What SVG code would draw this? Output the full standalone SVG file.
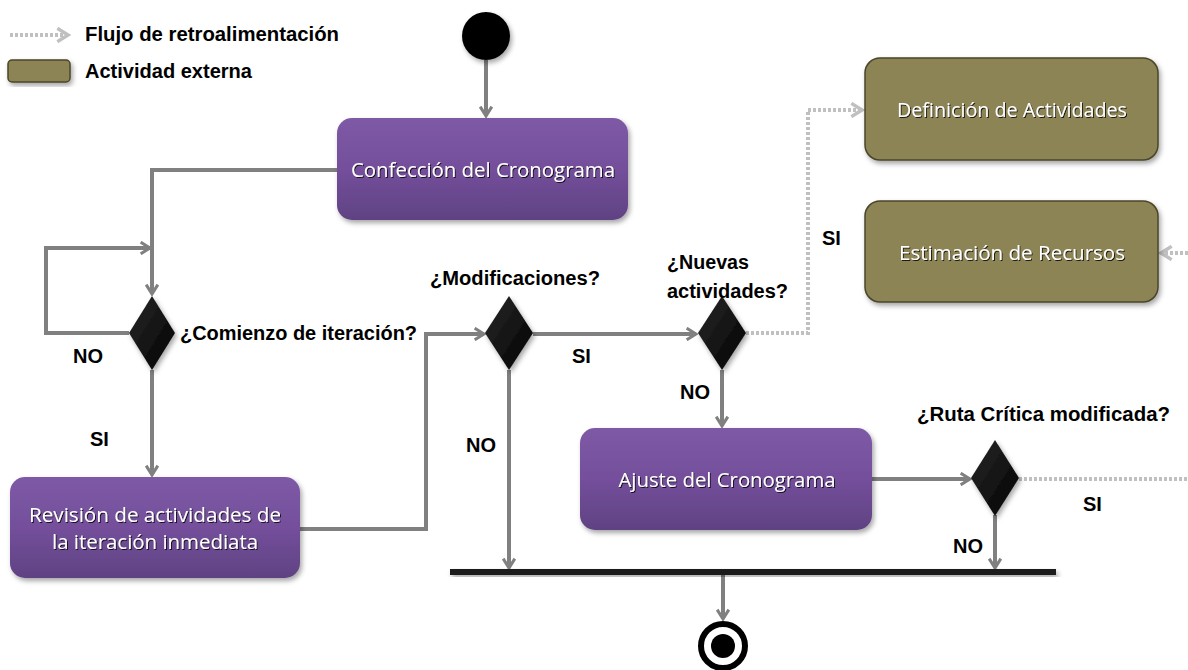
<svg xmlns="http://www.w3.org/2000/svg" width="1188" height="670" viewBox="0 0 1188 670">
<style>
.lbl{font-family:"Liberation Sans",Arial,sans-serif;font-weight:bold;font-size:20px;fill:#000}
.btx{font-family:"Open Sans","Liberation Sans",Arial,sans-serif;font-size:20px;fill:#fff;text-anchor:middle}
.flow{fill:none;stroke:#808080;stroke-width:4;marker-end:url(#arr)}
.fb{fill:none;stroke:#c0c0c0;stroke-width:4;stroke-dasharray:3 2}
.fba{fill:none;stroke:#c0c0c0;stroke-width:4;stroke-dasharray:3 2;marker-end:url(#arrl)}
.act{fill:url(#gp);filter:url(#sh)}
.ext{fill:#8c8454;stroke:#4a4528;stroke-width:1.5;filter:url(#sh)}
.dec{fill:url(#gd);filter:url(#sh)}
</style>
<defs>
<linearGradient id="gp" x1="0" y1="0" x2="0" y2="1"><stop offset="0" stop-color="#7e5aa6"/><stop offset="0.5" stop-color="#744f9b"/><stop offset="1" stop-color="#5f4283"/></linearGradient>
<linearGradient id="gd" x1="0" y1="0" x2="1" y2="1"><stop offset="0" stop-color="#2a2a2a"/><stop offset="1" stop-color="#000"/></linearGradient>
<filter id="sh" x="-10%" y="-10%" width="125%" height="130%"><feDropShadow dx="2" dy="3" stdDeviation="2.5" flood-color="#000" flood-opacity="0.35"/></filter>
<filter id="ts" x="-5%" y="-20%" width="110%" height="150%"><feDropShadow dx="1" dy="1" stdDeviation="0.7" flood-color="#000" flood-opacity="0.8"/></filter>
<marker id="arr" viewBox="0 0 12 12" refX="10" refY="6" markerWidth="14" markerHeight="14" markerUnits="userSpaceOnUse" orient="auto"><path d="M2,1 L10,6 L2,11" fill="none" stroke="#808080" stroke-width="2.6"/></marker>
<marker id="arrl" viewBox="0 0 12 12" refX="10" refY="6" markerWidth="16" markerHeight="16" markerUnits="userSpaceOnUse" orient="auto"><path d="M2,1 L10,6 L2,11" fill="none" stroke="#c0c0c0" stroke-width="2.6"/></marker>
</defs>
<rect width="1188" height="670" fill="#fff"/>

<g id="legend">
<path class="fba" d="M10,35 H68"/>
<text class="lbl" x="85" y="41" textLength="254" lengthAdjust="spacingAndGlyphs">Flujo de retroalimentación</text>
<rect class="ext" x="8" y="60" width="62" height="22" rx="4"/>
<text class="lbl" x="85" y="78" textLength="167" lengthAdjust="spacingAndGlyphs">Actividad externa</text>
</g>

<g id="connectors">
<path class="flow" d="M486,60 V116"/>
<path class="flow" d="M337,170 H152 V294"/>
<path class="flow" d="M129,333 H46 V248 H150"/>
<path class="flow" d="M152,370 V475"/>
<path class="flow" d="M300,529 H426 V334 H484"/>
<path class="flow" d="M533,334 H696"/>
<path class="flow" d="M509,370 V568"/>
<path class="fba" d="M746,333 H808 V110 H862"/>
<path class="fba" d="M1188,253 H1161"/>
<path class="flow" d="M722,370 V426"/>
<path class="flow" d="M872,479 H970"/>
<path class="fb" d="M1019,479 H1188"/>
<path class="flow" d="M995,515 V568"/>
<path class="flow" d="M723,575 V619"/>
</g>

<g id="start"><circle cx="486" cy="36" r="24" fill="#000" filter="url(#sh)"/></g>

<g id="confeccion">
<rect class="act" x="337" y="118" width="291" height="102" rx="15"/>
<text class="btx" x="483" y="177" textLength="264" lengthAdjust="spacingAndGlyphs" filter="url(#ts)">Confección del Cronograma</text>
</g>

<g id="dec1">
<path class="dec" d="M152,296 L175,333 L152,370 L129,333 Z"/>
<text class="lbl" x="180" y="340" textLength="237" lengthAdjust="spacingAndGlyphs">¿Comienzo de iteración?</text>
<text class="lbl" x="73" y="363">NO</text>
<text class="lbl" x="90" y="446">SI</text>
</g>

<g id="revision">
<rect class="act" x="10" y="477" width="290" height="101" rx="15"/>
<text class="btx" x="155" y="522" textLength="252" lengthAdjust="spacingAndGlyphs" filter="url(#ts)">Revisión de actividades de</text>
<text class="btx" x="155" y="549" textLength="206" lengthAdjust="spacingAndGlyphs" filter="url(#ts)">la iteración inmediata</text>
</g>

<g id="dec2">
<path class="dec" d="M509,296 L533,333 L509,370 L485,333 Z"/>
<text class="lbl" x="430" y="285" textLength="170" lengthAdjust="spacingAndGlyphs">¿Modificaciones?</text>
<text class="lbl" x="572" y="363">SI</text>
<text class="lbl" x="466" y="452">NO</text>
</g>

<g id="dec3">
<path class="dec" d="M722,296 L746,333 L722,370 L698,333 Z"/>
<text class="lbl" x="667" y="269" textLength="82" lengthAdjust="spacingAndGlyphs">¿Nuevas</text>
<text class="lbl" x="667" y="298" textLength="121" lengthAdjust="spacingAndGlyphs">actividades?</text>
<text class="lbl" x="822" y="245">SI</text>
<text class="lbl" x="680" y="399">NO</text>
</g>

<g id="definicion">
<rect class="ext" x="865" y="58" width="293" height="102" rx="15"/>
<text class="btx" x="1012" y="117" textLength="230" lengthAdjust="spacingAndGlyphs" filter="url(#ts)">Definición de Actividades</text>
</g>

<g id="estimacion">
<rect class="ext" x="865" y="201" width="293" height="101" rx="15"/>
<text class="btx" x="1012" y="260" textLength="226" lengthAdjust="spacingAndGlyphs" filter="url(#ts)">Estimación de Recursos</text>
</g>

<g id="ajuste">
<rect class="act" x="580" y="428" width="292" height="102" rx="15"/>
<text class="btx" x="727" y="487" textLength="217" lengthAdjust="spacingAndGlyphs" filter="url(#ts)">Ajuste del Cronograma</text>
</g>

<g id="dec4">
<path class="dec" d="M995,440 L1019,478 L995,516 L971,478 Z"/>
<text class="lbl" x="917" y="421" textLength="253" lengthAdjust="spacingAndGlyphs">¿Ruta Crítica modificada?</text>
<text class="lbl" x="1083" y="511">SI</text>
<text class="lbl" x="953" y="553">NO</text>
</g>

<g id="join"><rect x="450" y="569" width="606" height="6" fill="#1a1a1a" filter="url(#sh)"/></g>

<g id="end">
<circle cx="723" cy="646" r="22" fill="#fff" stroke="#000" stroke-width="6"/>
<circle cx="723" cy="646" r="12" fill="#000"/>
</g>
</svg>
